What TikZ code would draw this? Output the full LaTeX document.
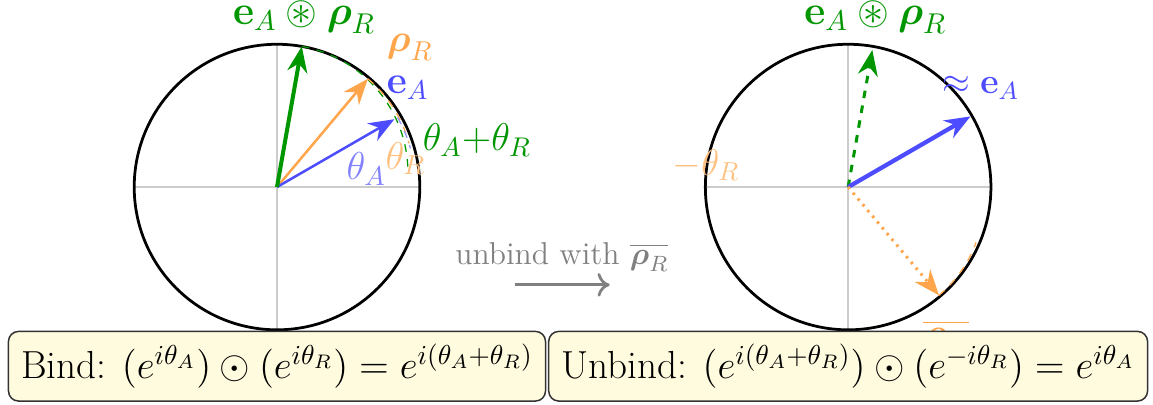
\RequirePackage{fix-cm}
\documentclass[tikz,border=0pt]{standalone}
\usepackage{amsmath,amssymb}
\usepackage{tikz}
\usetikzlibrary{arrows.meta,positioning,calc}
\definecolor{VecA}{RGB}{77,77,255}
\definecolor{VecR}{RGB}{255,166,77}
\definecolor{VecB}{RGB}{0,150,0}
\definecolor{BoxY}{RGB}{255,251,222}
\newcommand{\fsz}[1]{\fontsize{#1}{1.2\dimexpr #1pt\relax}\selectfont}
\tikzset{
  unit/.style={line width=1.1pt,black},
  axisln/.style={black!20,line width=0.6pt},
  vec/.style={-{Stealth[length=3.6mm,width=2.8mm]},line width=1pt},
  angarc/.style={dashed,line width=0.5pt},
  eqbox/.style={rounded corners=4pt,draw=black!80,fill=BoxY,line width=0.6pt,
                font=\fsz{15.6},inner sep=5pt,minimum height=9.2mm},
  lab/.style={font=\fsz{15.5}},
  toplab/.style={font=\fsz{16.3},text=VecB},
}

\begin{document}
\begin{tikzpicture}
  \useasboundingbox (-3.88,-3.05) rectangle (12.27,2.62);
  % --- bind ---
  \coordinate (O1) at (0,0);
  \draw[axisln] (-2,0) -- (2,0);
  \draw[axisln] (0,-2) -- (0,2);
  \draw[unit] (O1) circle (2);
  \coordinate (eA) at (30:1.9);
  \coordinate (rR) at (50:1.98);
  \coordinate (bd) at (80:2);
  \draw[angarc,VecB] (80:2) arc (80:0:1.8);
  \draw[angarc,VecR] (50:1.98) arc (50:15:1.78);
  \draw[angarc,VecA!60] (30:1.95) arc (30:15:1.8);
  \draw[vec,VecR] (O1) -- (rR);
  \draw[vec,VecA] (O1) -- (eA);
  \draw[vec,VecB,line width=1.6pt] (O1) -- (bd);
  \node[toplab] (bindlab) at (0.38,2.38) {$\mathbf{e}_A \circledast \boldsymbol{\rho}_R$};
  \node[lab,VecR] (rhoR) at (1.86,1.96) {$\boldsymbol{\rho}_R$};
  \node[lab,VecA] (eAlab) at (1.83,1.39) {$\mathbf{e}_A$};
  \node[lab,VecB,font=\fsz{15.4}] (sumlab) at (2.8,0.66) {$\theta_A{+}\theta_R$};
  \node[lab,VecA!70] (thA) at (1.25,0.25) {$\theta_A$};
  \node[lab,VecR!70] (thR) at (1.8,0.4) {$\theta_R$};

  % --- unbind arrow ---
  \node[lab,gray,font=\fsz{12.6}] (unb) at (3.99,-0.98) {unbind with $\overline{\boldsymbol{\rho}_R}$};
  \coordinate (ua) at (3.33,-1.37);
  \coordinate (ub) at (4.66,-1.37);
  \draw[-{To[length=1.7mm,width=3.3mm]},gray,line width=1.1pt] (ua) -- (ub);

  % --- unbind ---
  \coordinate (O2) at (8,0);
  \draw[axisln] (6,0) -- (10,0);
  \draw[axisln] (8,-2) -- (8,2);
  \draw[unit] (O2) circle (2);
  \coordinate (bd2) at ($(O2)+(80:1.95)$);
  \coordinate (eA2) at ($(O2)+(30:1.98)$);
  \coordinate (rc) at ($(O2)+(-50:1.98)$);
  \draw[angarc,VecR] ($(O2)+(-50:1.98)$) arc (-50:-20:1.75);
  \draw[vec,VecB,dashed,line width=1.2pt] (O2) -- (bd2);
  \draw[vec,VecA,line width=1.7pt] (O2) -- (eA2);
  \draw[vec,VecR,dotted,line width=1.2pt] (O2) -- (rc);
  \node[toplab] (unblab) at (8.38,2.38) {$\mathbf{e}_A \circledast \boldsymbol{\rho}_R$};
  \node[lab,VecA,font=\fsz{14.2}] (approx) at (9.86,1.39) {$\approx \mathbf{e}_A$};
  \node[lab,VecR!70,font=\fsz{14.8}] (mthR) at (6.01,0.31) {$-\theta_R$};
  \node[lab,VecR] (conjR) at (9.37,-2.1) {$\overline{\boldsymbol{\rho}_R}$};

  % --- equations ---
  \node[eqbox] (bindeq) at (0,-2.51)
    {Bind: $(e^{i\theta_A}) \odot (e^{i\theta_R}) = e^{i(\theta_A+\theta_R)}$};
  \node[eqbox] (unbindeq) at (8,-2.51)
    {Unbind: $(e^{i(\theta_A+\theta_R)}) \odot (e^{-i\theta_R}) = e^{i\theta_A}$};
\end{tikzpicture}
\end{document}
